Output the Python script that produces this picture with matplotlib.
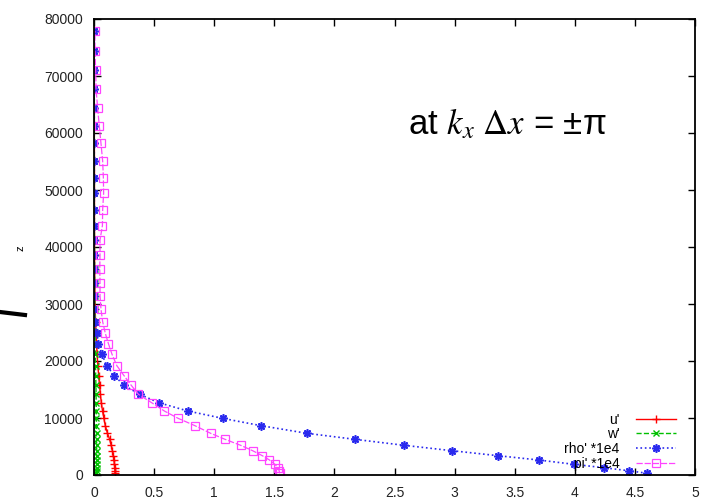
import matplotlib
matplotlib.use("Agg")
import matplotlib.pyplot as plt
from matplotlib.lines import Line2D

plt.rcParams['font.family'] = ['Liberation Sans', 'DejaVu Sans']
plt.rcParams['mathtext.fontset'] = 'stix'

# height levels (m)
z = [300, 750, 1280, 1880, 2630, 3390, 4260, 5210, 6260, 7320,
     8650, 9940, 11230, 12680, 14150, 15730, 17420, 19180, 21170, 23040,
     24860, 26900, 29120, 31460, 33630, 36140, 38600, 41230, 43740, 46490,
     49420, 52160, 55090, 58190, 61230, 64440, 67670, 71050, 74440, 77890]

u_p = [0.175, 0.174, 0.172, 0.170, 0.166, 0.161, 0.153, 0.143, 0.130, 0.112,
       0.094, 0.082, 0.071, 0.061, 0.053, 0.046, 0.039, 0.032, 0.026, 0.021,
       0.017, 0.013, 0.010, 0.008, 0.007, 0.006, 0.005, 0.005, 0.004, 0.004,
       0.004, 0.004, 0.004, 0.003, 0.003, 0.003, 0.002, 0.002, 0.002, 0.002]

w_p = [0.020, 0.021, 0.021, 0.022, 0.022, 0.022, 0.022, 0.022, 0.021, 0.021,
       0.020, 0.020, 0.019, 0.018, 0.017, 0.016, 0.014, 0.013, 0.011, 0.010,
       0.009, 0.008, 0.007, 0.006, 0.005, 0.005, 0.004, 0.004, 0.003, 0.003,
       0.003, 0.003, 0.002, 0.002, 0.002, 0.002, 0.002, 0.002, 0.001, 0.001]

rho_p = [4.60, 4.45, 4.24, 3.99, 3.70, 3.36, 2.98, 2.58, 2.17, 1.77,
         1.39, 1.07, 0.78, 0.54, 0.38, 0.25, 0.17, 0.105, 0.067, 0.036,
         0.022, 0.008, 0.002, 0.002, 0.002, 0.002, 0.002, 0.002, 0.002, 0.002,
         0.002, 0.002, 0.002, 0.002, 0.002, 0.002, 0.002, 0.002, 0.002, 0.002]

pi_p = [1.545, 1.54, 1.53, 1.505, 1.46, 1.40, 1.32, 1.22, 1.09, 0.97,
        0.84, 0.70, 0.585, 0.48, 0.37, 0.31, 0.25, 0.19, 0.15, 0.12,
        0.094, 0.072, 0.058, 0.050, 0.050, 0.048, 0.050, 0.050, 0.070, 0.072,
        0.080, 0.078, 0.072, 0.058, 0.044, 0.030, 0.017, 0.014, 0.008, 0.008]

labels = ["u'", "w'", "rho' *1e4", "pi' *1e4"]
xticks = [0, 0.5, 1, 1.5, 2, 2.5, 3, 3.5, 4, 4.5, 5]
yticks = [0, 10000, 20000, 30000, 40000, 50000, 60000, 70000, 80000]

fig = plt.figure(figsize=(7.2, 5.01), dpi=100)
ax = fig.add_axes([94/720, 26/501, 601/720, 456/501])

ax.plot(u_p, z, color='#ff0000', ls='-', lw=1.0, marker='+', ms=5.5, mew=1.0, label=labels[0])
ax.plot(w_p, z, color='#00c000', ls='--', lw=1.0, marker='x', ms=4, mew=1.0, label=labels[1])
ax.plot(rho_p, z, color='#2a2aee', ls=':', lw=1.2, marker=(8, 2, 0), ms=6, mew=1.2, label=labels[2])
ax.plot(pi_p, z, color='#ff44ff', ls=(0, (5, 1.5)), lw=0.9, marker='s', ms=5.5, mew=0.9,
        mfc='none', label=labels[3])

ax.set_xlim(0, 5)
ax.set_ylim(0, 80000)
ax.set_xticks(xticks)
ax.set_xticklabels(['0', '0.5', '1', '1.5', '2', '2.5', '3', '3.5', '4', '4.5', '5'])
ax.set_yticks(yticks)
ax.set_yticklabels([str(v) for v in yticks])
ax.tick_params(direction='in', top=True, right=True, length=5, width=1.0,
               labelsize=10, labelcolor='#222222', pad=8)
for s in ax.spines.values():
    s.set_linewidth(1.3)

fig.text(21/720, 1 - 248/501, 'z', fontsize=8, rotation=90, ha='center', va='center')

leg = ax.legend(loc='lower right', bbox_to_anchor=(0.985, -0.012), frameon=False,
                markerfirst=False, fontsize=10, handlelength=2.9, handletextpad=1.2,
                labelspacing=0.05, borderpad=0.2)

fig.text(408/720, 1 - 134/501, r"at $k_x\ \Delta x$ = ±π", fontsize=25, ha='left',
         va='baseline')

fig.add_artist(Line2D([0, 25], [501 - 312, 501 - 315], transform=None,
                      color='black', lw=3))

fig.savefig('out.png', dpi=100)
